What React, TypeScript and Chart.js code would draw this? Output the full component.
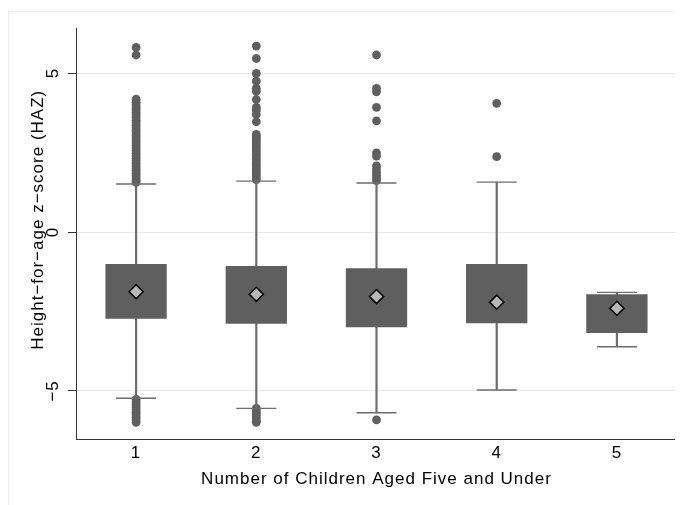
import React, { useEffect, useRef } from 'react';
import { Chart, registerables } from 'chart.js';

Chart.register(...registerables);

// ---- data ----
const categories = ['1', '2', '3', '4', '5'];
const q1 = [-2.73, -2.89, -3.0, -2.87, -3.18];
const q3 = [-1.01, -1.07, -1.14, -1.01, -1.96];
const means = [-1.88, -1.96, -2.03, -2.21, -2.4];
const whiskerLow = [-5.23, -5.55, -5.69, -4.97, -3.61];
const whiskerHigh = [1.51, 1.6, 1.54, 1.57, -1.9];

const outliers1 = [
  1.56, 1.63, 1.7, 1.78, 1.85, 1.93, 2.0, 2.08, 2.16, 2.24, 2.32, 2.4, 2.48, 2.56, 2.64, 2.72,
  2.8, 2.88, 2.96, 3.04, 3.12, 3.2, 3.28, 3.36, 3.44, 3.52, 3.6, 3.68, 3.76, 3.84, 3.92, 4.0,
  4.08, 4.18, 5.57, 5.81,
  -5.27, -5.35, -5.43, -5.51, -5.59, -5.67, -5.75, -5.83, -5.91, -5.99,
];
const outliers2 = [
  1.65, 1.73, 1.81, 1.89, 1.97, 2.05, 2.13, 2.21, 2.29, 2.37, 2.45, 2.53, 2.61, 2.69, 2.77,
  2.85, 2.93, 3.0, 3.07, 3.47, 3.7, 3.84, 3.92, 4.17, 4.43, 4.52, 4.75, 4.99, 5.46, 5.85,
  -5.55, -5.63, -5.71, -5.79, -5.87, -5.95, -5.99,
];
const outliers3 = [1.62, 1.7, 1.78, 1.88, 1.98, 2.08, 2.39, 2.49, 3.5, 3.92, 4.41, 4.52, 5.57, -5.91];
const outliers4 = [2.37, 4.05];
const outliers5: number[] = [];
const outlierGroups = [outliers1, outliers2, outliers3, outliers4, outliers5];

const yTicks = [-5, 0, 5];
const yMin = -6.53;
const yMax = 6.42;

const xTitle = 'Number of Children Aged Five and Under';
const yTitle = 'Height\u2212for\u2212age z\u2212score (HAZ)';

const FONT_FAMILY = '"Liberation Sans", Arial, Helvetica, sans-serif';
const BOX_COLOR = '#5f5f5f';
const LINE_COLOR = '#6c6c6c';

const fmtTick = (v: number) => (v < 0 ? '\u2212' + Math.abs(v) : String(v));

const stataText = {
  id: 'stataText',
  beforeDraw(chart: any) {
    (chart.ctx as any).letterSpacing = '1px';
  },
  afterDraw(chart: any) {
    const ctx = chart.ctx;
    const yScale = chart.scales.y;
    const area = chart.chartArea;
    ctx.save();
    (ctx as any).letterSpacing = '1px';
    ctx.fillStyle = '#000';
    ctx.font = '17px ' + FONT_FAMILY;
    ctx.textAlign = 'center';
    ctx.textBaseline = 'middle';
    yTicks.forEach((v) => {
      const py = yScale.getPixelForValue(v);
      ctx.save();
      ctx.translate(area.left - 23, py);
      ctx.rotate(-Math.PI / 2);
      ctx.fillText(fmtTick(v), 0, 0);
      ctx.restore();
    });
    ctx.save();
    ctx.translate(area.left - 38, (area.top + area.bottom) / 2 - 14);
    ctx.rotate(-Math.PI / 2);
    ctx.fillText(yTitle, 0, 0);
    ctx.restore();
    ctx.restore();
  },
};

export default function App() {
  const ref = useRef<HTMLCanvasElement | null>(null);

  useEffect(() => {
    if (!ref.current) return;
    const outlierPoints: any[] = [];
    outlierGroups.forEach((g, i) => g.forEach((v) => outlierPoints.push({ x: categories[i], y: v })));
    const capPoints: any[] = [];
    categories.forEach((c, i) => {
      capPoints.push({ x: c, y: whiskerHigh[i] });
      capPoints.push({ x: c, y: whiskerLow[i] });
    });

    const chart = new Chart(ref.current, {
      type: 'bar',
      data: {
        labels: categories,
        datasets: [
          {
            type: 'line',
            label: 'mean',
            data: categories.map((c, i) => ({ x: c, y: means[i] })),
            showLine: false,
            pointStyle: 'rectRot',
            pointRadius: 7,
            pointBackgroundColor: '#b8b8b8',
            pointBorderColor: '#000',
            pointBorderWidth: 1.6,
            order: 0,
          } as any,
          {
            type: 'bar',
            label: 'box',
            data: categories.map((_, i) => [q1[i], q3[i]]),
            backgroundColor: BOX_COLOR,
            borderWidth: 0,
            barPercentage: 0.51,
            categoryPercentage: 1,
            grouped: false,
            order: 1,
          } as any,
          {
            type: 'line',
            label: 'caps',
            data: capPoints,
            showLine: false,
            pointStyle: 'line',
            pointRadius: 20,
            pointBorderColor: LINE_COLOR,
            pointBorderWidth: 1.4,
            order: 2,
          } as any,
          {
            type: 'bar',
            label: 'whisker',
            data: categories.map((_, i) => [whiskerLow[i], whiskerHigh[i]]),
            backgroundColor: LINE_COLOR,
            borderWidth: 0,
            barThickness: 1.5,
            grouped: false,
            order: 3,
          } as any,
          {
            type: 'line',
            label: 'outliers',
            data: outlierPoints,
            showLine: false,
            pointStyle: 'circle',
            pointRadius: 4.4,
            pointBackgroundColor: BOX_COLOR,
            pointBorderWidth: 0,
            pointBorderColor: BOX_COLOR,
            order: 4,
          } as any,
        ],
      },
      options: {
        animation: false,
        responsive: false,
        events: [],
        layout: { autoPadding: false, padding: { left: 0, top: 20, right: 6, bottom: 0 } },
        plugins: {
          legend: { display: false },
          tooltip: { enabled: false },
        },
        scales: {
          x: {
            type: 'category',
            offset: true,
            grid: { display: false, drawTicks: false },
            border: { display: true, color: '#333', width: 1 },
            ticks: { color: '#000', padding: 4, font: { size: 17, family: FONT_FAMILY } },
            title: {
              display: true,
              text: xTitle,
              color: '#000',
              font: { size: 17, family: FONT_FAMILY },
              padding: { top: 0, bottom: 15 },
            },
            afterFit: (s: any) => {
              s.height = 65.5;
              s.paddingLeft = 0;
              s.paddingRight = 0;
            },
          },
          y: {
            type: 'linear',
            min: yMin,
            max: yMax,
            afterBuildTicks: (s: any) => {
              s.ticks = yTicks.map((v) => ({ value: v }));
            },
            afterFit: (s: any) => {
              s.width = 68;
              s.paddingTop = 0;
              s.paddingBottom = 0;
            },
            ticks: { display: false },
            grid: {
              color: '#e8e8e8',
              lineWidth: 1,
              drawTicks: true,
              tickLength: 8,
              tickColor: '#333',
            },
            border: { display: true, color: '#333', width: 1 },
          },
        },
      } as any,
      plugins: [stataText as any],
    });
    return () => chart.destroy();
  }, []);

  return (
    <div style={{ position: 'relative', width: 675, height: 497 }}>
      <div
        style={{
          position: 'absolute',
          left: 0,
          top: 3,
          right: 0,
          bottom: 0,
          borderTop: '1px solid #ececec',
          borderLeft: '1px solid #ececec',
        }}
      />
      <canvas ref={ref} width={675} height={497} style={{ position: 'absolute', left: 0, top: 0 }} />
    </div>
  );
}
